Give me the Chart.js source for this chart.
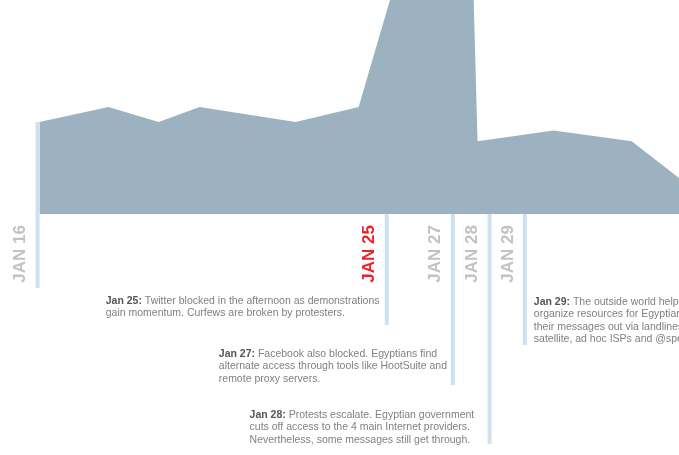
<!DOCTYPE html>
<html>
<head>
<meta charset="utf-8">
<script src="https://cdn.jsdelivr.net/npm/chart.js@4.4.1/dist/chart.umd.min.js"></script>
<style>
  html, body { margin: 0; padding: 0; background: #fff; overflow: hidden; }
  canvas { display: block; }
</style>
</head>
<body>
<canvas id="timeline" width="679" height="455"></canvas>
<script>
// activity volume over time (x = day of January, fractional)
const days = [16.05, 17.89, 19.23, 20.32, 22.88, 24.56, 25.68, 27.6, 27.73, 29.76, 31.84, 33.68];
const volume = [43, 50, 43, 50, 43, 50, 117, 117, 34, 39, 34, 9];

// event markers
const eventDays = [16, 25.31, 27.07, 28.05, 28.99];
const eventLabels = ['JAN 16', 'JAN 25', 'JAN 27', 'JAN 28', 'JAN 29'];
const eventHighlight = [false, true, false, false, false];

const noteTitles = [null, 'Jan 25:', 'Jan 27:', 'Jan 28:', 'Jan 29:'];
const noteLines = [
    null,
    [' Twitter blocked in the afternoon as demonstrations', 'gain momentum. Curfews are broken by protesters.'],
    [' Facebook also blocked. Egyptians find', 'alternate access through tools like HootSuite and', 'remote proxy servers.'],
    [' Protests escalate. Egyptian government', 'cuts off access to the 4 main Internet providers.', 'Nevertheless, some messages still get through.'],
    [' The outside world helps', 'organize resources for Egyptians to get', 'their messages out via landlines, dial-up,', 'satellite, ad hoc ISPs and @speak2tweet.']
];

// layout of the marker lines and notes (pixels)
const markerLayout = [
    { bottom: 288 },
    { bottom: 325, noteDx: -281, noteY: 301 },
    { bottom: 385, noteDx: -234, noteY: 354 },
    { bottom: 444, noteDx: -240, noteY: 415 },
    { bottom: 345, noteDx: 9, noteY: 302 }
];

const markersPlugin = {
    id: 'markers',
    afterDatasetsDraw(chart) {
        const { ctx, chartArea, scales } = chart;
        const firstPoint = chart.getDatasetMeta(0).data[0];
        ctx.save();
        eventDays.forEach((day, i) => {
            const x = scales.x.getPixelForValue(day);
            const layout = markerLayout[i];
            const top = day <= days[0] ? firstPoint.y : chartArea.bottom;

            ctx.fillStyle = '#cfe0f1';
            ctx.fillRect(x - 2, top, 4, layout.bottom - top);

            // rotated date label
            ctx.save();
            ctx.translate(x - 17, chartArea.bottom + 11);
            ctx.rotate(-Math.PI / 2);
            ctx.font = 'bold 17px "Liberation Sans", Arial, sans-serif';
            ctx.textAlign = 'right';
            ctx.textBaseline = 'middle';
            ctx.fillStyle = eventHighlight[i] ? '#e8232b' : '#c2c2c2';
            ctx.fillText(eventLabels[i], 0, 0);
            ctx.restore();

            // note text
            if (noteLines[i]) {
                const left = x + layout.noteDx;
                ctx.textAlign = 'left';
                ctx.textBaseline = 'middle';
                noteLines[i].forEach((line, j) => {
                    const y = layout.noteY + j * 12.5;
                    let lx = left;
                    if (j === 0) {
                        ctx.font = 'bold 10.5px "Liberation Sans", Arial, sans-serif';
                        ctx.fillStyle = '#555';
                        ctx.fillText(noteTitles[i], lx, y);
                        lx += ctx.measureText(noteTitles[i]).width;
                    }
                    ctx.font = '10.5px "Liberation Sans", Arial, sans-serif';
                    ctx.fillStyle = '#808080';
                    ctx.fillText(line, lx, y);
                });
            }
        });
        ctx.restore();
    }
};

new Chart(document.getElementById('timeline').getContext('2d'), {
    type: 'line',
    data: {
        datasets: [{
            data: days.map((d, i) => ({ x: d, y: volume[i] })),
            backgroundColor: '#9db2c0',
            borderWidth: 0,
            fill: 'origin',
            pointRadius: 0,
            tension: 0
        }]
    },
    options: {
        responsive: false,
        animation: false,
        devicePixelRatio: 1,
        layout: { padding: { left: 0, right: 0, top: 0, bottom: 241 } },
        plugins: { legend: { display: false }, tooltip: { enabled: false } },
        scales: {
            x: { type: 'linear', min: 15, max: 33.1, display: false },
            y: { min: 0, max: 100, display: false }
        }
    },
    plugins: [markersPlugin]
});
</script>
</body>
</html>
